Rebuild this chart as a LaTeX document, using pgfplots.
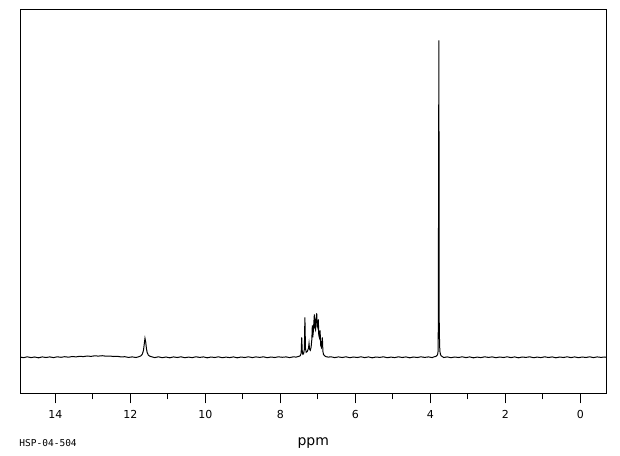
\documentclass[border=0pt]{standalone}
\usepackage{fontspec}
\setmainfont{DejaVu Sans}
\newfontfamily\monofont{DejaVu Sans Mono}
\usepackage{pgfplots}
\pgfplotsset{compat=1.18}

\pgfplotstableread{
ppm h
14.93 0.2
14.85 -0.4
14.75 0.5
14.65 -0.3
14.55 0.3
14.45 -0.5
14.35 0.4
14.25 -0.2
14.15 0.4
14.05 -0.3
13.95 0.5
13.85 0.0
13.75 0.6
13.65 0.1
13.55 0.8
13.45 0.4
13.35 1.0
13.25 0.7
13.15 1.3
13.05 0.9
12.95 1.5
12.85 1.2
12.75 1.6
12.65 1.1
12.55 1.3
12.45 0.8
12.35 1.0
12.25 0.4
12.15 0.6
12.05 -0.1
11.95 0.4
11.85 -0.2
11.78 0.5
11.72 1.4
11.68 3.2
11.65 7
11.63 13
11.61 19
11.59 15
11.57 8.5
11.55 4.5
11.52 2.2
11.48 1.1
11.42 0.4
11.35 -0.3
11.25 0.5
11.15 -0.4
11.05 0.3
10.95 -0.5
10.85 0.4
10.75 -0.2
10.65 0.5
10.55 -0.4
10.45 0.2
10.35 -0.3
10.25 0.5
10.15 -0.1
10.05 0.4
9.95 -0.5
9.85 0.3
9.75 -0.2
9.65 0.5
9.55 -0.4
9.45 0.2
9.35 -0.3
9.25 0.4
9.15 -0.5
9.05 0.3
8.95 -0.2
8.85 0.5
8.75 -0.3
8.65 0.4
8.55 -0.1
8.45 0.5
8.35 -0.4
8.25 0.3
8.15 -0.2
8.05 0.5
7.95 0.0
7.85 0.4
7.75 -0.3
7.65 0.5
7.58 0.2
7.52 0.8
7.47 1.5
7.445 4
7.43 20
7.415 6
7.40 3
7.38 3.5
7.36 8
7.345 40
7.33 9
7.31 5
7.28 6
7.25 9
7.235 14
7.22 8
7.20 7
7.18 10
7.16 18
7.147 32
7.135 20
7.12 26
7.093 43
7.08 30
7.065 28
7.05 38
7.03 44
7.015 30
7.00 32
6.987 38
6.975 22
6.96 20
6.94 27
6.925 12
6.905 10
6.88 20
6.865 6
6.85 3
6.82 1.5
6.78 0.6
6.72 0.2
6.65 0.5
6.55 -0.3
6.45 0.4
6.35 -0.2
6.25 0.5
6.15 -0.4
6.05 0.3
5.95 -0.2
5.85 0.5
5.75 -0.3
5.65 0.4
5.55 -0.5
5.45 0.3
5.35 -0.1
5.25 0.5
5.15 -0.4
5.05 0.2
4.95 -0.3
4.85 0.5
4.75 -0.2
4.65 0.4
4.55 -0.5
4.45 0.3
4.35 -0.2
4.25 0.5
4.15 -0.1
4.05 0.4
3.95 -0.3
3.90 0.5
3.86 0.8
3.83 1.5
3.81 2.5
3.80 4
3.79 7
3.783 114
3.772 317
3.762 30
3.752 12
3.745 6
3.73 3
3.71 1.5
3.68 0.6
3.64 -0.2
3.55 0.4
3.45 -0.4
3.35 0.3
3.25 -0.2
3.15 0.5
3.05 -0.3
2.95 0.4
2.85 -0.5
2.75 0.2
2.65 -0.3
2.55 0.5
2.45 -0.1
2.35 0.4
2.25 -0.4
2.15 0.3
2.05 -0.2
1.95 0.5
1.85 -0.3
1.75 0.4
1.65 -0.5
1.55 0.3
1.45 -0.1
1.35 0.5
1.25 -0.4
1.15 0.2
1.05 -0.3
0.95 0.5
0.85 -0.2
0.75 0.4
0.65 -0.5
0.55 0.3
0.45 -0.2
0.35 0.5
0.25 -0.3
0.15 0.4
0.05 -0.4
-0.05 0.3
-0.15 -0.2
-0.25 0.5
-0.35 -0.3
-0.45 0.4
-0.55 -0.1
-0.65 0.3
-0.69 0.0
}\spectrum

\begin{document}
\begin{tikzpicture}
% fix the page to the reference size (620 x 455)
\useasboundingbox (-20.5pt,-61.7pt) rectangle (599.5pt,393.3pt);
\begin{axis}[
    at={(0,0)}, anchor=south west,
    scale only axis,
    width=585.5pt, height=383.8pt,
    x dir=reverse,
    xmin=-0.685, xmax=14.93,
    ymin=-36, ymax=347.8,
    xtick={0,2,...,14},
    minor xtick={1,3,...,13},
    ytick=\empty,
    tick align=outside,
    xtick pos=bottom,
    major tick length=10pt,
    minor tick length=6pt,
    every tick/.style={black, line width=1pt},
    axis line style={line width=1pt},
    /pgf/number format/assume math mode=true,
    xticklabel style={font=\fontsize{11}{13}\selectfont, yshift=-4pt},
    xlabel={ppm},
    xlabel style={font=\fontsize{14}{16}\selectfont, at={(axis description cs:0.5,0)}, anchor=base, yshift=-51.7pt},
]
\addplot[black, line width=1pt] table[x=ppm, y=h] {\spectrum};
\end{axis}
\node[anchor=base west, inner sep=0pt, font=\monofont\fontsize{9.5}{11}\selectfont] at (-1.2pt,-52.7pt) {HSP-04-504};
\end{tikzpicture}
\end{document}
